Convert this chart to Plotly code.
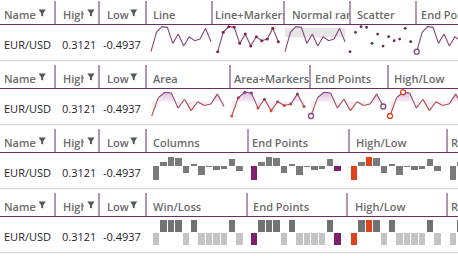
import plotly.graph_objects as go

# ---------------- data ----------------
values = [-0.4937, 0.1295, 0.3121, 0.2906, -0.2251, 0.0757,
          -0.3111, -0.0102, -0.1391, -0.0854, 0.2584, -0.1714]
pair_name = "EUR/USD"
high_text = "0.3121"
low_text = "-0.4937"
normal_range = [-0.03, 0.28]
fixed_headers = ["Name", "High", "Low"]
block_headers = [
    ["Line", "Line+Markers", "Normal range", "Scatter", "End Points"],
    ["Area", "Area+Markers", "End Points", "High/Low"],
    ["Columns", "End Points", "High/Low", "R"],
    ["Win/Loss", "End Points", "High/Low", "R"],
]
block_kinds = [
    ["line", "line_markers", "normal_range", "scatter", "line_endpoints"],
    ["area", "area_markers", "area_endpoints", "area_highlow"],
    ["col", "col_endpoints", "col_highlow", "col"],
    ["wl", "wl_endpoints", "wl_highlow", "wl"],
]

# ---------------- geometry / style ----------------
W, H = 458, 256
BLOCK_H = 64
fixed_sep_x = [55, 99, 146]
block_sep_x = [[212, 284, 350, 416], [230, 310, 388], [248, 349, 447], [247, 347, 447]]
fixed_text_x = [3.3, 61.5, 105.5]
fixed_text_clip = [None, 21, None]
funnel_cx = [42.2, 91, 133.7]
block_text_x = [[152, 214, 290.5, 356, 420], [151.5, 233, 314, 393],
                [152.3, 251, 355, 450], [152.3, 252, 354, 450]]
block_text_clip = [[None, 69, 58, None, 38], [None, 76, None, None],
                   [None, None, None, 8], [None, None, None, 8]]
data_text_x = [2.7, 61, 101.7]
spark_x = [[(151, 211), (217.7, 278.3), (285, 345), (350, 410.7), (416.7, 476.7)],
           [(151.7, 224), (231.7, 304), (311, 383.3), (390, 462.3)]]
spark_y = [(26.7, 51.7), (28.3, 52.0)]
bar_left = [[152.3, 251, 351, 450], [152.3, 251, 351, 450]]
bar_pitch = 7.6
bar_w = 6.3
col_y = (29.3, 52.7)
wl_y = (28.3, 53.3)
HEADER_LINE_Y = 24.5
ROW_LINE_Y = 60.5
HEADER_TEXT_Y = 14.0
DATA_TEXT_Y = 44.0
FONT_SIZE = 11

GRID_PURPLE = "#6b2d63"
ROW_GRAY = "#d9d9d9"
HEADER_TXT = "#6b6b6b"
DATA_TXT = "#1e1e1e"
LINE_PURPLE = "#84477c"
MARKER_RED = "#8c1f45"
SCATTER_DOT = "#5e2a62"
HILITE_PURPLE = "#7e1f70"
HILITE_RED = "#e0431b"
BAR_GRAY = "#7a7a7a"
WL_POS = "#727272"
WL_NEG = "#c4c4c4"
BAND_GRAY = "#e6e6e6"
ORANGE_RGB = (230, 84, 40)
PURPLE_RGB = (122, 62, 122)
FONT = "Open Sans"

vmin, vmax = min(values), max(values)
n = len(values)
xs = list(range(n))
i_min = values.index(vmin)
i_max = values.index(vmax)

fig = go.Figure()
layout = dict(width=W, height=H, margin=dict(l=0, r=0, t=0, b=0), autosize=False,
              paper_bgcolor="white", plot_bgcolor="rgba(0,0,0,0)", showlegend=False)
shapes = []
annotations = []
axis_id = [0]


def add_axes(xp0, xp1, xv0, xv1, yp_top, yp_bot, yv_top, yv_bot, padx=3.0, pady=3.0):
    axis_id[0] += 1
    k = axis_id[0]
    sx = (xp1 - xp0) / (xv1 - xv0)
    d0 = max(0.0, xp0 - padx)
    d1 = min(float(W), xp1 + padx)
    r0 = xv0 - (xp0 - d0) / sx
    r1 = xv1 + (d1 - xp1) / sx
    sy = (yp_bot - yp_top) / (yv_top - yv_bot)
    t = max(0.0, yp_top - pady)
    b = min(float(H), yp_bot + pady)
    rb = yv_bot - (b - yp_bot) / sy
    rt = yv_top + (yp_top - t) / sy
    xk = "xaxis" if k == 1 else f"xaxis{k}"
    yk = "yaxis" if k == 1 else f"yaxis{k}"
    xr = "x" if k == 1 else f"x{k}"
    yr = "y" if k == 1 else f"y{k}"
    layout[xk] = dict(domain=[d0 / W, d1 / W], range=[r0, r1], visible=False,
                      fixedrange=True, anchor=yr)
    layout[yk] = dict(domain=[1 - b / H, 1 - t / H], range=[rb, rt], visible=False,
                      fixedrange=True, anchor=xr)
    return xr, yr


def mix(v):
    t = (v - vmin) / (vmax - vmin)
    r = [round(ORANGE_RGB[j] + (PURPLE_RGB[j] - ORANGE_RGB[j]) * t) for j in range(3)]
    return f"rgb({r[0]},{r[1]},{r[2]})"


def hollow(xr, yr, idx, color):
    fig.add_trace(go.Scatter(x=[xs[i] for i in idx], y=[values[i] for i in idx], xaxis=xr, yaxis=yr,
                             mode="markers", cliponaxis=False, hoverinfo="skip",
                             marker=dict(size=5, color="white", line=dict(color=color, width=1.3))))


# ---------- line sparklines (block 0) ----------
def line_spark(kind, xp, yp):
    xr, yr = add_axes(xp[0], xp[1], 0, n - 1, yp[0], yp[1], vmax, vmin)
    if kind == "normal_range":
        fig.add_trace(go.Scatter(x=[0, n - 1, n - 1, 0, 0],
                                 y=[normal_range[0], normal_range[0], normal_range[1], normal_range[1], normal_range[0]],
                                 xaxis=xr, yaxis=yr, mode="lines", fill="toself", fillcolor=BAND_GRAY,
                                 line=dict(width=0), hoverinfo="skip"))
    if kind == "scatter":
        fig.add_trace(go.Scatter(x=xs, y=values, xaxis=xr, yaxis=yr, mode="markers", cliponaxis=False,
                                 marker=dict(size=2.8, color=SCATTER_DOT), hoverinfo="skip"))
        return
    fig.add_trace(go.Scatter(x=xs, y=values, xaxis=xr, yaxis=yr, mode="lines",
                             line=dict(color=LINE_PURPLE, width=1.1), hoverinfo="skip"))
    if kind == "line_markers":
        fig.add_trace(go.Scatter(x=xs, y=values, xaxis=xr, yaxis=yr, mode="markers", cliponaxis=False,
                                 marker=dict(size=3, color=MARKER_RED), hoverinfo="skip"))
    if kind == "line_endpoints":
        hollow(xr, yr, [0, n - 1], LINE_PURPLE)


# ---------- area sparklines (block 1) ----------
def area_spark(kind, xp, yp):
    xr, yr = add_axes(xp[0], xp[1], 0, n - 1, yp[0], yp[1], vmax, vmin)
    t0 = (0 - vmin) / (vmax - vmin)
    fig.add_trace(go.Scatter(x=xs, y=values, xaxis=xr, yaxis=yr, mode="lines", fill="tozeroy",
                             line=dict(width=0), hoverinfo="skip",
                             fillgradient=dict(type="vertical", start=vmin, stop=vmax,
                                               colorscale=[[0, "rgba(240,200,190,0.10)"],
                                                           [t0, "rgba(225,195,225,0.35)"],
                                                           [1, "rgba(205,165,210,0.75)"]])))
    for i in range(n - 1):
        fig.add_trace(go.Scatter(x=xs[i:i + 2], y=values[i:i + 2], xaxis=xr, yaxis=yr, mode="lines",
                                 line=dict(color=mix((values[i] + values[i + 1]) / 2), width=1.1),
                                 hoverinfo="skip"))
    if kind == "area_markers":
        fig.add_trace(go.Scatter(x=xs, y=values, xaxis=xr, yaxis=yr, mode="markers", cliponaxis=False,
                                 marker=dict(size=3, color=[mix(v) for v in values]), hoverinfo="skip"))
    if kind == "area_endpoints":
        hollow(xr, yr, [0, n - 1], LINE_PURPLE)
    if kind == "area_highlow":
        hollow(xr, yr, [i_min, i_max], HILITE_RED)


# ---------- bar sparklines (blocks 2,3) ----------
def bar_spark(kind, left, yp, winloss):
    c0 = left + bar_w / 2
    c1 = c0 + (n - 1) * bar_pitch
    if winloss:
        yv = [1 if v > 0 else -1 for v in values]
        base = [0.06 if v > 0 else -0.06 for v in values]
        xr, yr = add_axes(c0, c1, 0, n - 1, yp[0], yp[1], 1, -1, padx=bar_pitch / 2, pady=1)
        colors = [WL_POS if v > 0 else WL_NEG for v in values]
    else:
        yv = values
        base = [0] * n
        xr, yr = add_axes(c0, c1, 0, n - 1, yp[0], yp[1], vmax, vmin, padx=bar_pitch / 2, pady=1)
        colors = [BAR_GRAY] * n
    if kind.endswith("endpoints"):
        colors[0] = HILITE_PURPLE
        colors[-1] = HILITE_PURPLE
    if kind.endswith("highlow"):
        colors[i_min] = HILITE_RED
        colors[i_max] = HILITE_RED
    fig.add_trace(go.Bar(x=xs, y=[yv[i] - base[i] for i in range(n)], base=base, xaxis=xr, yaxis=yr,
                         width=bar_w / bar_pitch, marker=dict(color=colors, line=dict(width=0)),
                         hoverinfo="skip"))


def funnel(cx, y0):
    return dict(type="path", xref="paper", yref="paper", fillcolor="#555555", line=dict(width=0),
                path=" ".join([
                    f"M {(cx - 3.6) / W},{1 - (y0 + 9.6) / H}",
                    f"L {(cx + 3.6) / W},{1 - (y0 + 9.6) / H}",
                    f"L {(cx + 1.0) / W},{1 - (y0 + 13.2) / H}",
                    f"L {(cx + 1.0) / W},{1 - (y0 + 16.6) / H}",
                    f"L {(cx - 1.0) / W},{1 - (y0 + 15.8) / H}",
                    f"L {(cx - 1.0) / W},{1 - (y0 + 13.2) / H}", "Z"]))


def text(x, y, s, color, weight, clip=None):
    a = dict(x=x / W, y=1 - y / H, xref="paper", yref="paper", text=s, showarrow=False,
             xanchor="left", yanchor="middle", align="left", borderpad=0,
             font=dict(family=FONT, size=FONT_SIZE, color=color, weight=weight))
    if clip:
        a["width"] = clip
    annotations.append(a)


for b in range(4):
    y0 = b * BLOCK_H
    shapes.append(dict(type="line", xref="paper", yref="paper", x0=0, x1=1,
                       y0=1 - (y0 + HEADER_LINE_Y) / H, y1=1 - (y0 + HEADER_LINE_Y) / H,
                       line=dict(color=GRID_PURPLE, width=1)))
    shapes.append(dict(type="line", xref="paper", yref="paper", x0=0, x1=1,
                       y0=1 - (y0 + ROW_LINE_Y) / H, y1=1 - (y0 + ROW_LINE_Y) / H,
                       line=dict(color=ROW_GRAY, width=1.5)))
    for sx in fixed_sep_x + block_sep_x[b]:
        shapes.append(dict(type="line", xref="paper", yref="paper", x0=sx / W, x1=sx / W,
                           y0=1 - (y0 + 1) / H, y1=1 - (y0 + HEADER_LINE_Y) / H,
                           line=dict(color=GRID_PURPLE, width=1)))
    for j, h in enumerate(fixed_headers):
        text(fixed_text_x[j], y0 + HEADER_TEXT_Y, h, HEADER_TXT, 600, fixed_text_clip[j])
        shapes.append(funnel(funnel_cx[j], y0))
    for j, s in enumerate([pair_name, high_text, low_text]):
        text(data_text_x[j], y0 + DATA_TEXT_Y, s, DATA_TXT, 400)
    for j, h in enumerate(block_headers[b]):
        text(block_text_x[b][j], y0 + HEADER_TEXT_Y, h, HEADER_TXT, 600, block_text_clip[b][j])
    for j, kind in enumerate(block_kinds[b]):
        if b == 0:
            xp = spark_x[0][j]
            line_spark(kind, xp, (y0 + spark_y[0][0], y0 + spark_y[0][1]))
        elif b == 1:
            xp = spark_x[1][j]
            area_spark(kind, xp, (y0 + spark_y[1][0], y0 + spark_y[1][1]))
        elif b == 2:
            bar_spark(kind, bar_left[0][j], (y0 + col_y[0], y0 + col_y[1]), False)
        else:
            bar_spark(kind, bar_left[1][j], (y0 + wl_y[0], y0 + wl_y[1]), True)

layout["shapes"] = shapes
layout["annotations"] = annotations
layout["bargap"] = 0
fig.update_layout(**layout)
fig.write_html("out.html", config={"displayModeBar": False})
